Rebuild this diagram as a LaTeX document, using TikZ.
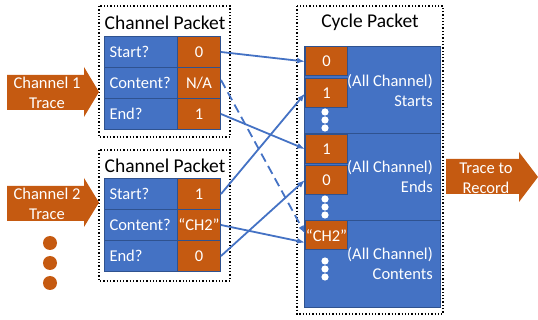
\documentclass[tikz,border=0pt]{standalone}
\usepackage{fontspec}
\setmainfont{Carlito}
\usetikzlibrary{arrows.meta,calc}
\definecolor{org}{HTML}{C55A11}
\definecolor{blu}{HTML}{4472C4}
\definecolor{dblu}{HTML}{2F528F}
\begin{document}
\begin{tikzpicture}[x=1pt,y=-1pt,
  every node/.style={font=\fontsize{16.5}{20}\selectfont},
  lbl/.style={rectangle, draw=dblu, fill=blu, text=white, line width=1pt, minimum height=31pt, text width=63pt, inner xsep=5pt, inner ysep=0pt, align=left, anchor=north west},
  val/.style={rectangle, draw=dblu, fill=org, text=white, line width=1pt, minimum height=31pt, minimum width=43pt, inner sep=0pt, anchor=north west},
  cval/.style={rectangle, draw=dblu, fill=org, text=white, line width=1pt, minimum height=29pt, minimum width=42pt, inner sep=0pt, anchor=north west},
  sect/.style={rectangle, draw=dblu, fill=blu, line width=1pt, minimum width=136pt, minimum height=87pt, inner sep=0pt, anchor=north west},
  slabel/.style={text=white, align=right, anchor=east, inner sep=0pt},
  dotbox/.style={draw=black, dotted, line width=1.3pt},
  ttl/.style={font=\fontsize{19.5}{23}\selectfont, inner sep=0pt},
  bigarrow/.style={fill=org},
  arrtext/.style={text=white, align=center, inner sep=0pt},
  wdot/.style={fill=white},
  odot/.style={fill=org},
  conn/.style={draw=blu, line width=1.8pt, -{Latex[length=8pt,width=6pt]}},
]
\useasboundingbox (0,0) rectangle (538,320);

% dotted boxes
\draw[dotbox] (99,6) rectangle (230,137);
\draw[dotbox] (99,150) rectangle (230,281);
\draw[dotbox] (297,6) rectangle (443,314);

% titles
\node[ttl] (t1) at (165,23) {Channel Packet};
\node[ttl] (t2) at (165,166) {Channel Packet};
\node[ttl] (t3) at (370,22) {Cycle Packet};

% packet 1
\node[lbl] (a1) at (104,36) {Start?};
\node[lbl] (a2) at (104,67) {Content?};
\node[lbl] (a3) at (104,98) {End?};
\node[val] (av1) at (177,36) {0};
\node[val] (av2) at (177,67) {N/A};
\node[val] (av3) at (177,98) {1};

% packet 2
\node[lbl] (b1) at (104,178) {Start?};
\node[lbl] (b2) at (104,209) {Content?};
\node[lbl] (b3) at (104,240) {End?};
\node[val] (bv1) at (177,178) {1};
\node[val] (bv2) at (177,209) {“CH2”};
\node[val] (bv3) at (177,240) {0};

% cycle packet sections
\node[sect] (s1) at (304,46) {};
\node[sect] (s2) at (304,133) {};
\node[sect] (s3) at (304,220) {};
\node[slabel] (l1) at (433,91) {(All Channel)\\Starts};
\node[slabel] (l2) at (433,177) {(All Channel)\\Ends};
\node[slabel] (l3) at (433,264) {(All Channel)\\Contents};

\node[cval] (c0) at (305,46.5) {0};
\node[cval] (c1) at (305,78.5) {1};
\node[cval] (e1) at (305,134) {1};
\node[cval] (e0) at (305,165) {0};
\node[cval] (ch) at (305,220.5) {“CH2”};

% white dots
\foreach \y in {112,120,128,199,207,215,261,269,277}
  \fill[wdot] (325,\y) circle (3.6);

% input arrows
\fill[bigarrow] (7,75) -- (84,75) -- (84,67) -- (99,92) -- (84,117) -- (84,110) -- (7,110) -- cycle;
\node[arrtext] (in1) at (47,93) {Channel 1\\Trace};
\fill[bigarrow] (7,186) -- (84,186) -- (84,178) -- (99,202.5) -- (84,227) -- (84,221) -- (7,221) -- cycle;
\node[arrtext] (in2) at (47,204) {Channel 2\\Trace};
\fill[bigarrow] (446,159) -- (519,159) -- (519,152) -- (538,177) -- (519,202) -- (519,194) -- (446,194) -- cycle;
\node[arrtext] (out) at (486,178) {Trace to\\Record};

% orange dots
\foreach \y in {243,263,283}
  \fill[odot] (50,\y) circle (7);

% connectors
\draw[conn] (av1.east) -- (c0.west);
\draw[conn] (av3.east) -- (e1.west);
\draw[conn, dash pattern=on 9pt off 5pt] ($(av2.east)+(0,-3)$) -- ($(ch.west)+(0,-2)$);
\draw[conn] (bv1.east) -- (c1.west);
\draw[conn] (bv2.east) -- ($(ch.west)+(0,7)$);
\draw[conn] (bv3.east) -- (e0.west);
\end{tikzpicture}
\end{document}
